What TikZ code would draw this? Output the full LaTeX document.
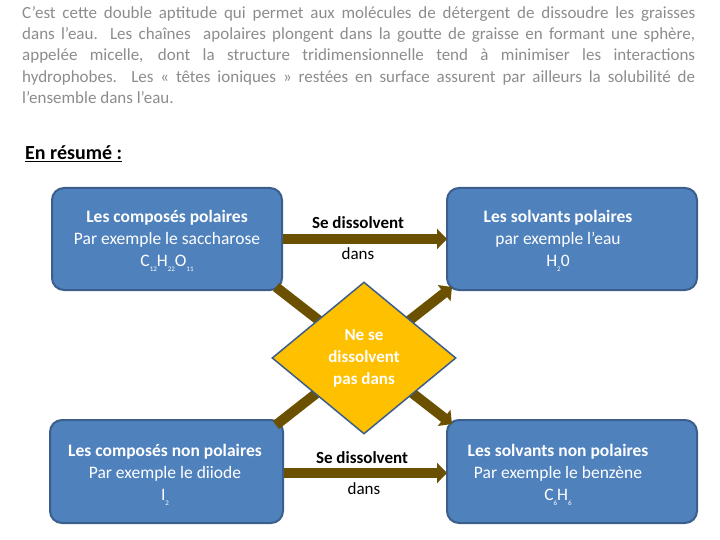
\documentclass[tikz,border=0pt]{standalone}
\usepackage{fontspec}
\setmainfont{Carlito}
\usetikzlibrary{shapes.geometric,arrows.meta}
\definecolor{boxblue}{HTML}{4F81BD}
\definecolor{boxedge}{HTML}{3B5E8C}
\definecolor{arr}{HTML}{6B5000}
\definecolor{dia}{HTML}{FFC000}
\definecolor{txtgray}{HTML}{8C8C8C}
\newcommand{\sbs}[1]{\raisebox{-0.25em}{\scriptsize #1}}
\begin{document}
\begin{tikzpicture}[x=1pt,y=-1pt,
  bx/.style={draw=boxedge,line width=2pt,fill=boxblue,rounded corners=12pt,text=white,align=center,font=\fontsize{17.5}{22}\selectfont},
  fat/.style={draw=arr,line width=10pt,-{Triangle[length=10pt,width=20pt]}},
  lab/.style={font=\fontsize{17}{18}\selectfont}]
\useasboundingbox (0,0) rectangle (720,540);
\node[anchor=north west,text width=673pt,align=justify,text=txtgray,font=\fontsize{17}{21.3}\selectfont,inner sep=0pt] (para) at (22,6)
{C’est cette double aptitude qui permet aux molécules de détergent de dissoudre les graisses\linebreak dans l’eau. Les chaînes\ \ apolaires plongent dans la goutte de graisse en formant une sphère,\linebreak appelée micelle, dont la structure tridimensionnelle tend à minimiser les interactions\linebreak hydrophobes. Les « têtes ioniques » restées en surface assurent par ailleurs la solubilité de\linebreak l’ensemble dans l’eau.};
\node[anchor=west,font=\fontsize{20}{22}\selectfont\bfseries,inner sep=0pt] (res) at (25,154) {\underline{En résumé :}};
\path[bx] (52,188) rectangle (282,290);
\node[bx,draw=none,fill=none] (tl) at (167,241) {\textbf{Les composés polaires}\\Par exemple le saccharose\\C\sbs{12}H\sbs{22}O\sbs{11}};
\path[bx] (447,188) rectangle (697,290);
\node[bx,draw=none,fill=none] (tr) at (558,241) {\textbf{Les solvants polaires}\\par exemple l’eau\\H\sbs{2}0};
\path[bx] (50,420) rectangle (283,523);
\node[bx,draw=none,fill=none] (bl) at (165,475) {\textbf{Les composés non polaires}\\Par exemple le diiode\\I\sbs{2}};
\path[bx] (447,420) rectangle (697,523);
\node[bx,draw=none,fill=none] (br) at (558,475) {\textbf{Les solvants non polaires}\\Par exemple le benzène\\C\sbs{6}H\sbs{6}};
\coordinate (tls) at (276,287); \coordinate (bre) at (452,424);
\coordinate (bls) at (276,425); \coordinate (tre) at (452,287);
\draw[fat] (tls) -- (bre);
\draw[fat] (bls) -- (tre);
\coordinate (h1s) at (283,239); \coordinate (h1e) at (447,239);
\coordinate (h2s) at (284,473); \coordinate (h2e) at (447,473);
\draw[fat] (h1s) -- (h1e);
\draw[fat] (h2s) -- (h2e);
\node[lab,font=\fontsize{17}{18}\selectfont\bfseries] (s1) at (358,223) {Se dissolvent};
\node[lab] (d1) at (358,254) {dans};
\node[lab,font=\fontsize{17}{18}\selectfont\bfseries] (s2) at (362,458) {Se dissolvent};
\node[lab] (d2) at (364,489) {dans};
\node[diamond,draw=boxedge,line width=1.5pt,fill=dia,minimum width=184pt,minimum height=152pt,inner sep=0pt,text=white,align=center,font=\fontsize{17}{22}\selectfont\bfseries] (dm) at (364,358) {Ne se\\dissolvent\\pas dans};
\end{tikzpicture}
\end{document}
